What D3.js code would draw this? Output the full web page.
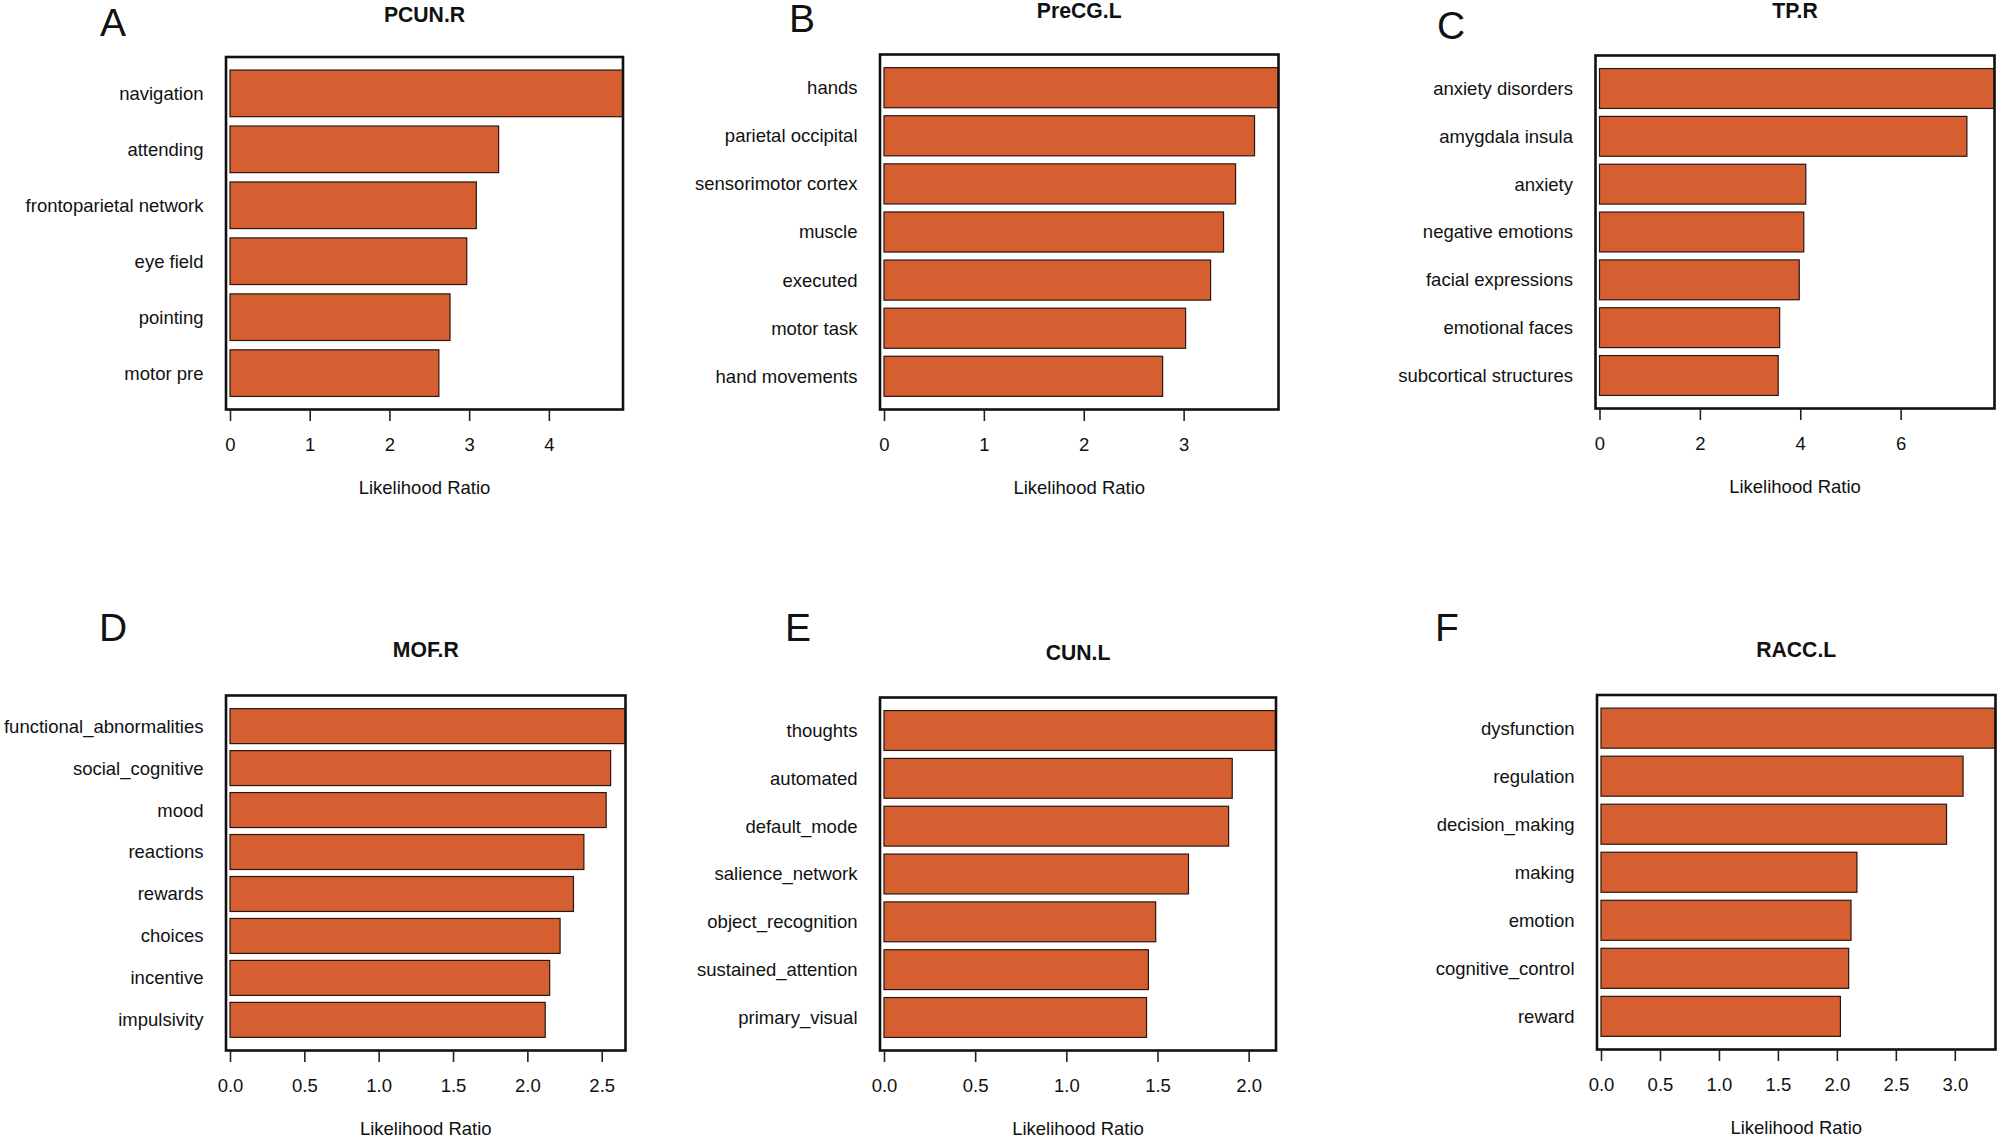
<!DOCTYPE html>
<html>
<head>
<meta charset="utf-8">
<script src="https://cdn.jsdelivr.net/npm/d3@7"></script>
<style>
body{margin:0;background:#fff;}
svg text{font-family:"Liberation Sans",Arial,Helvetica,sans-serif;fill:#111;}
</style>
</head>
<body>
<svg width="2000" height="1138"></svg>
<script>
/* data (top bar first) */

// A - PCUN.R
const termsA=['navigation','attending','frontoparietal network','eye field','pointing','motor pre'];
const lrA=[4.93,3.37,3.09,2.97,2.76,2.62];
const ticksA=[0,1,2,3,4];

// B - PreCG.L
const termsB=['hands','parietal occipital','sensorimotor cortex','muscle','executed','motor task','hand movements'];
const lrB=[3.95,3.71,3.52,3.40,3.27,3.02,2.79];
const ticksB=[0,1,2,3];

// C - TP.R
const termsC=['anxiety disorders','amygdala insula','anxiety','negative emotions','facial expressions','emotional faces','subcortical structures'];
const lrC=[7.87,7.32,4.11,4.07,3.98,3.59,3.56];
const ticksC=[0,2,4,6];

// D - MOF.R
const termsD=['functional_abnormalities','social_cognitive','mood','reactions','rewards','choices','incentive','impulsivity'];
const lrD=[2.66,2.56,2.53,2.38,2.31,2.22,2.15,2.12];
const ticksD=[0,0.5,1,1.5,2,2.5];

// E - CUN.L
const termsE=['thoughts','automated','default_mode','salience_network','object_recognition','sustained_attention','primary_visual'];
const lrE=[2.15,1.91,1.89,1.67,1.49,1.45,1.44];
const ticksE=[0,0.5,1,1.5,2];

// F - RACC.L
const termsF=['dysfunction','regulation','decision_making','making','emotion','cognitive_control','reward'];
const lrF=[3.345,3.07,2.93,2.17,2.12,2.10,2.03];
const ticksF=[0,0.5,1,1.5,2,2.5,3];

const panels=[
    {letter:'A',title:'PCUN.R',terms:termsA,values:lrA,ticks:ticksA,fmt:'d'},
    {letter:'B',title:'PreCG.L',terms:termsB,values:lrB,ticks:ticksB,fmt:'d'},
    {letter:'C',title:'TP.R',terms:termsC,values:lrC,ticks:ticksC,fmt:'d'},
    {letter:'D',title:'MOF.R',terms:termsD,values:lrD,ticks:ticksD,fmt:'.1f'},
    {letter:'E',title:'CUN.L',terms:termsE,values:lrE,ticks:ticksE,fmt:'.1f'},
    {letter:'F',title:'RACC.L',terms:termsF,values:lrF,ticks:ticksF,fmt:'.1f'}
];

/* layout: plot box, title baseline, panel letter position */
const layout=[
    {x0:226,y0:57,x1:623,y1:409.5,titleY:21.5,lx:100,ly:35.5},
    {x0:880,y0:54.5,x1:1278.5,y1:409.5,titleY:17.5,lx:789,ly:31.5},
    {x0:1595.5,y0:55.5,x1:1994.5,y1:408.5,titleY:17.5,lx:1437,ly:38.5},
    {x0:226,y0:695.5,x1:625.5,y1:1050.5,titleY:657,lx:99,ly:640.5},
    {x0:880,y0:697.5,x1:1276,y1:1050.5,titleY:660,lx:785,ly:640.5},
    {x0:1597,y0:695,x1:1995.5,y1:1049.5,titleY:657,lx:1435,ly:640.5}
];

const barFill='#d65f31';
const barStroke='#2a170e';
const fontSize=18.5;

const svg=d3.select('svg');

panels.forEach((p,k)=>{
    const L=layout[k];
    const g=svg.append('g');
    const n=p.terms.length;

    // R barplot: space 0.2, 4% axis extension on each side
    const ext=0.04*(1.2*n-0.2);
    const y=d3.scaleBand()
        .domain(p.terms)
        .range([L.y0,L.y1])
        .paddingInner(0.2/1.2)
        .paddingOuter(ext/1.2);

    const x=d3.scaleLinear()
        .domain([0,d3.max(p.values)])
        .range([L.x0+4,L.x1]);

    g.selectAll('rect.bar')
        .data(p.terms)
        .join('rect')
        .attr('class','bar')
        .attr('x',x(0))
        .attr('y',d=>y(d))
        .attr('width',(d,i)=>x(p.values[i])-x(0))
        .attr('height',y.bandwidth())
        .attr('fill',barFill)
        .attr('stroke',barStroke)
        .attr('stroke-width',1.2);

    // box
    g.append('rect')
        .attr('x',L.x0)
        .attr('y',L.y0)
        .attr('width',L.x1-L.x0)
        .attr('height',L.y1-L.y0)
        .attr('fill','none')
        .attr('stroke','#111')
        .attr('stroke-width',2.6);

    // category labels
    g.selectAll('text.term')
        .data(p.terms)
        .join('text')
        .attr('class','term')
        .attr('x',L.x0-22.5)
        .attr('y',d=>y(d)+y.bandwidth()/2)
        .attr('dy','0.35em')
        .attr('text-anchor','end')
        .attr('font-size',fontSize)
        .text(d=>d);

    // x axis
    const axis=g.append('g')
        .attr('transform',`translate(0,${L.y1})`)
        .call(d3.axisBottom(x)
            .tickValues(p.ticks)
            .tickFormat(d3.format(p.fmt))
            .tickSizeInner(11.5)
            .tickSizeOuter(0)
            .tickPadding(16.4));
    axis.select('.domain').remove();
    axis.selectAll('.tick line')
        .attr('stroke','#222')
        .attr('stroke-width',1.6);
    axis.selectAll('.tick text')
        .attr('font-size',fontSize)
        .attr('font-family','"Liberation Sans",Arial,sans-serif')
        .attr('fill','#111');

    // axis title
    g.append('text')
        .attr('x',(L.x0+L.x1)/2)
        .attr('y',L.y1+84)
        .attr('text-anchor','middle')
        .attr('font-size',fontSize)
        .text('Likelihood Ratio');

    // panel title
    g.append('text')
        .attr('x',(L.x0+L.x1)/2)
        .attr('y',L.titleY)
        .attr('text-anchor','middle')
        .attr('font-size',21.2)
        .attr('font-weight','bold')
        .text(p.title);

    // panel letter
    g.append('text')
        .attr('x',L.lx)
        .attr('y',L.ly)
        .attr('font-size',39)
        .text(p.letter);
});
</script>
</body>
</html>
